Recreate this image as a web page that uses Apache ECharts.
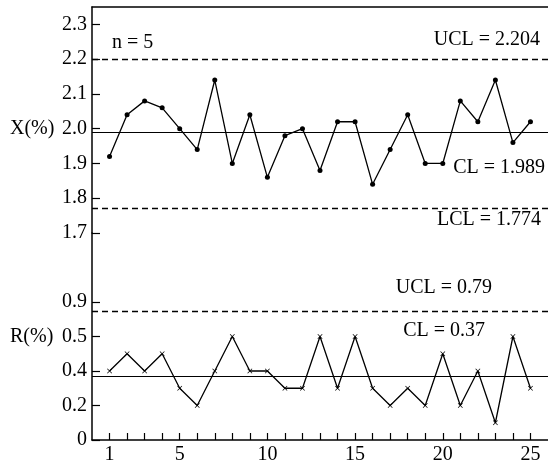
<!DOCTYPE html>
<html>
<head>
<meta charset="utf-8">
<script src="https://cdn.jsdelivr.net/npm/echarts@6/dist/echarts.min.js"></script>
<style>html,body{margin:0;padding:0;background:#fff}#c{width:548px;height:465px}</style>
</head>
<body>
<div id="c"></div>
<script>
// ---- data ----
const samples = [1,2,3,4,5,6,7,8,9,10,11,12,13,14,15,16,17,18,19,20,21,22,23,24,25];
const xbar = [1.92,2.04,2.08,2.06,2.00,1.94,2.14,1.90,2.04,1.86,1.98,2.00,1.88,2.02,2.02,1.84,1.94,2.04,1.90,1.90,2.08,2.02,2.14,1.96,2.02];
const rng  = [0.40,0.45,0.40,0.45,0.30,0.20,0.40,0.50,0.40,0.40,0.30,0.30,0.50,0.30,0.50,0.30,0.20,0.30,0.20,0.45,0.20,0.40,0.10,0.50,0.30];
const xbarTicks = [1.7,1.8,1.9,2.0,2.1,2.2,2.3];
const rTicks = [0,0.2,0.4,0.5,0.9];
const xTickLabels = [1,5,10,15,20,25];
const xbarUCL = 2.204, xbarCL = 1.989, xbarLCL = 1.774;
const rUCL = 0.79, rCL = 0.37;
const sampleSize = 5;

// R axis in the original is drawn with unevenly labelled, evenly spaced ticks
function rToAxis(v){
  for(let i=0;i<rTicks.length-1;i++){
    if(v<=rTicks[i+1]) return i + (v-rTicks[i])/(rTicks[i+1]-rTicks[i]);
  }
  const n=rTicks.length-1;
  return n-1 + (v-rTicks[n-1])/(rTicks[n]-rTicks[n-1]);
}

const FONT = 'Liberation Serif';
const txt = {fontFamily: FONT, fontSize: 20, color: '#000'};
const black = '#000';

const chart = echarts.init(document.getElementById('c'), null, {renderer:'canvas'});
const dashed = {color: black, width: 1.4, type: [6,4]};
const solid = {color: black, width: 1.2, type: 'solid'};

const option = {
  animation: false,
  backgroundColor: '#fff',
  grid: [
    {left: 92, width: 458, top: 7, height: 226},
    {left: 92, width: 458, top: 233, height: 208}
  ],
  xAxis: [
    {gridIndex:0, type:'value', min:0, max:26, position:'top',
     axisLine:{show:true, lineStyle:{color:black, width:1.5}},
     axisTick:{show:false}, axisLabel:{show:false}, splitLine:{show:false}},
    {gridIndex:1, type:'value', min:0, max:26, position:'bottom',
     axisLine:{show:true, onZero:false, lineStyle:{color:black, width:1.5}},
     axisTick:{show:true, inside:true, length:7, customValues: samples, lineStyle:{color:black, width:1.2}},
     axisLabel:{show:true, customValues: xTickLabels, margin:5, ...txt},
     splitLine:{show:false}}
  ],
  yAxis: [
    {gridIndex:0, type:'value', min:1.7, max:2.35,
     axisLine:{show:true, lineStyle:{color:black, width:1.5}},
     axisTick:{show:true, inside:true, length:8, customValues: xbarTicks, lineStyle:{color:black, width:1.2}},
     axisLabel:{show:true, customValues: xbarTicks, margin:5, formatter: v => Number(v).toFixed(1), ...txt},
     splitLine:{show:false}},
    {gridIndex:1, type:'value', min:0, max:6,
     axisLine:{show:true, onZero:false, lineStyle:{color:black, width:1.5}},
     axisTick:{show:true, inside:true, length:8, customValues: rTicks.map((v,i)=>i), lineStyle:{color:black, width:1.2}},
     axisLabel:{show:true, customValues: rTicks.map((v,i)=>i), margin:5,
       formatter: v => { const t = rTicks[Math.round(v)]; return t===0 ? '0' : t.toFixed(1); }, ...txt},
     splitLine:{show:false}}
  ],
  series: [
    {type:'line', xAxisIndex:0, yAxisIndex:0,
     data: samples.map((s,i)=>[s, xbar[i]]),
     symbol:'circle', symbolSize:5,
     itemStyle:{color:black}, lineStyle:{color:black, width:1.3},
     markLine:{silent:true, symbol:'none', label:{show:false},
       data:[{yAxis:xbarUCL, lineStyle:dashed},{yAxis:xbarCL, lineStyle:solid},{yAxis:xbarLCL, lineStyle:dashed}]}},
    {type:'line', xAxisIndex:1, yAxisIndex:1,
     data: samples.map((s,i)=>[s, rToAxis(rng[i])]),
     symbol:'path://M0,1L1,0L5,4L9,0L10,1L6,5L10,9L9,10L5,6L1,10L0,9L4,5Z', symbolSize:5,
     itemStyle:{color:black}, lineStyle:{color:black, width:1.3},
     markLine:{silent:true, symbol:'none', label:{show:false},
       data:[{yAxis:rToAxis(rUCL), lineStyle:dashed},{yAxis:rToAxis(rCL), lineStyle:solid}]}}
  ]
};
chart.setOption(option);

function py(axis, v){ return chart.convertToPixel({yAxisIndex:axis}, v); }
const T = (text, x, y, align, vAlign) => ({type:'text', x, y,
  style:{text, font:'20px "Liberation Serif"', fill:black, textAlign:align||'left', textVerticalAlign:vAlign||'middle'}});
chart.setOption({graphic:[
  T('X(%)', 10, py(0, 2.0)),
  T('R(%)', 10, py(1, rToAxis(0.5))),
  T('n = ' + sampleSize, 112, 43),
  T('UCL = ' + xbarUCL, 540, py(0, xbarUCL) - 8, 'right', 'bottom'),
  T('CL = ' + xbarCL, 545, py(0, xbarCL) + 25, 'right', 'top'),
  T('LCL = ' + xbarLCL, 541, py(0, xbarLCL) + 2, 'right', 'top'),
  T('UCL = ' + rUCL, 492, py(1, rToAxis(rUCL)) - 14, 'right', 'bottom'),
  T('CL = ' + rCL, 485, py(1, rToAxis(rCL)) - 35, 'right', 'bottom')
]});
</script>
</body>
</html>
